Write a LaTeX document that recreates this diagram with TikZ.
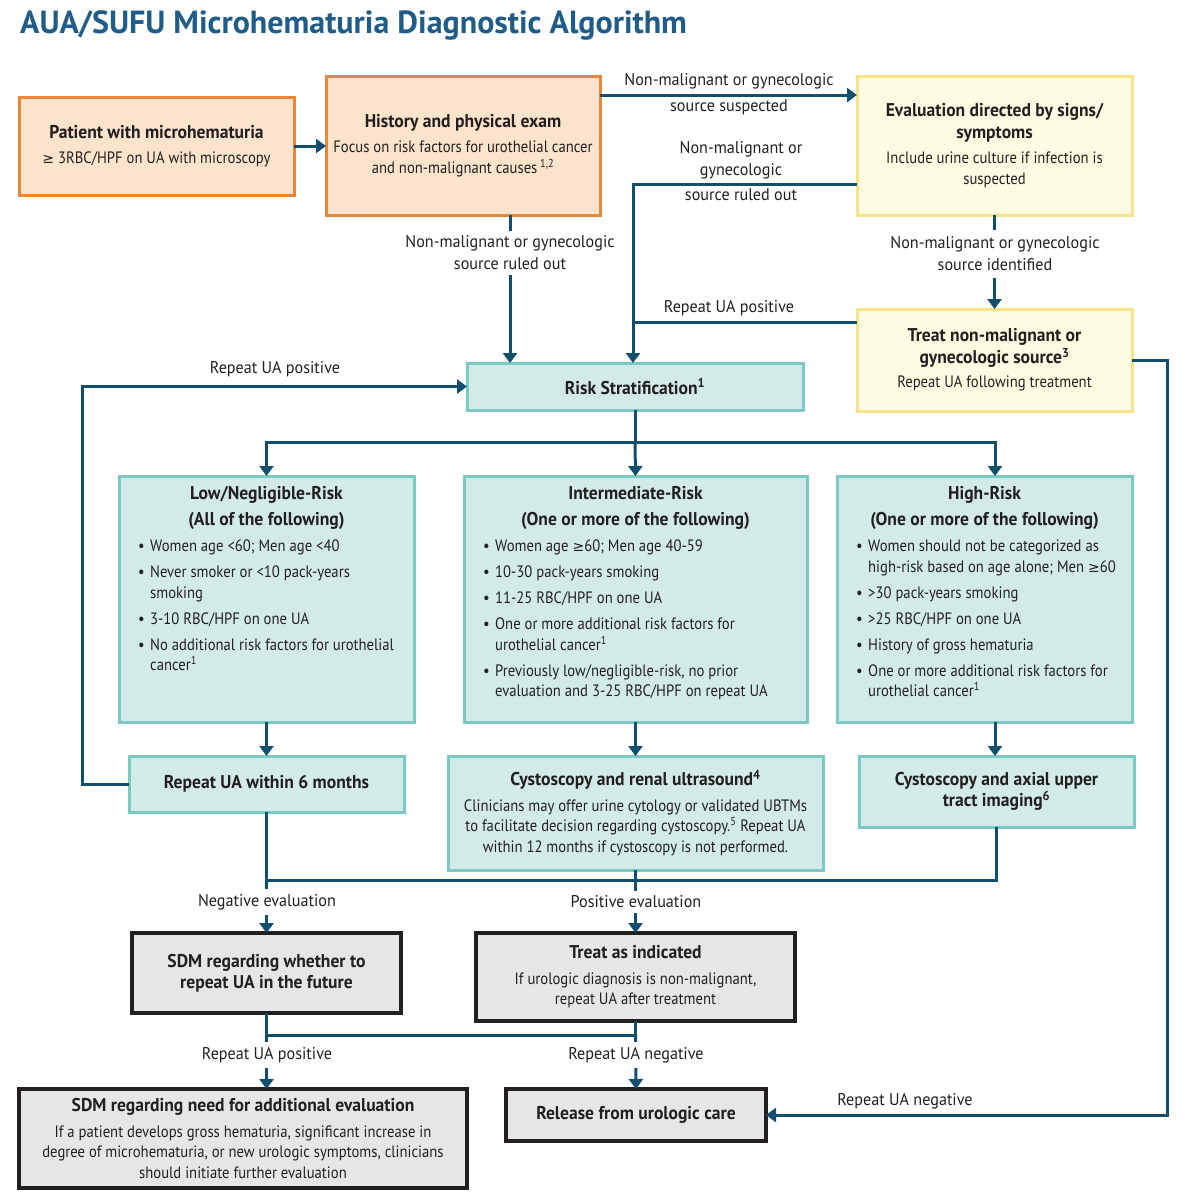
\documentclass[tikz,border=0pt]{standalone}
\usepackage{fontspec}
\setmainfont[FakeStretch=0.95]{PT Sans}
\newfontfamily\bodyfam[FakeStretch=0.89]{PT Sans}
\newfontfamily\titlefont{PT Sans}
\newfontfamily\symfam[Scale=0.85]{DejaVu Sans}
\newcommand{\gte}{{\symfam ≥}}
\usetikzlibrary{arrows.meta,calc}
\definecolor{titleblue}{HTML}{1F5C87}
\definecolor{linecol}{HTML}{124E6D}
\definecolor{orb}{HTML}{E8873A}
\definecolor{orf}{HTML}{FBE3CC}
\definecolor{yeb}{HTML}{F7E48A}
\definecolor{yef}{HTML}{FEFBE3}
\definecolor{teb}{HTML}{7CC9C3}
\definecolor{tef}{HTML}{D3EBE8}
\definecolor{grf}{HTML}{E6E6E8}
\definecolor{txt}{HTML}{231F20}
\newcommand{\bodyfont}{\bodyfam\fontsize{16.5}{20.5}\selectfont}
\newcommand{\headfont}{\normalfont\fontsize{18.5}{21}\selectfont\bfseries}
\newcommand{\lblfont}{\fontsize{17}{22}\selectfont}
\newcommand{\bul}{\makebox[12pt][l]{\textbullet}}
\newcommand{\cont}{\hspace*{12pt}}
\begin{document}
\begin{tikzpicture}[x=1pt,y=-1pt,
  box/.style={draw, line width=3pt, anchor=north west, inner sep=0pt, outer sep=0pt, align=center, text=txt, font=\bodyfont},
  orangebox/.style={box, draw=orb, fill=orf},
  yellowbox/.style={box, draw=yeb, fill=yef},
  tealbox/.style={box, draw=teb, fill=tef},
  graybox/.style={box, draw=txt, fill=grf, line width=3.5pt},
  link/.style={draw=linecol, line width=3pt},
  arrowlink/.style={link, -{Triangle[width=14pt,length=10pt]}},
  lbl/.style={font=\lblfont, text=txt, align=center, inner sep=0pt},
  lblw/.style={lbl, fill=white, inner ysep=5pt, inner xsep=3pt},
  headtext/.style={font=\headfont, text=txt, align=center, inner sep=0pt},
  listtext/.style={font=\bodyfont, text=txt, align=left, inner sep=0pt, anchor=north west}
]
\useasboundingbox (0,0) rectangle (1195,1200);

\node[anchor=base west, inner sep=0pt, font=\titlefont\fontsize{32}{36}\selectfont\bfseries, text=titleblue] (title) at (20,33) {AUA/SUFU Microhematuria Diagnostic Algorithm};

% boxes
\node[orangebox, minimum width=275pt, minimum height=98pt] (patient) at (19,97)
  {{\headfont Patient with microhematuria}\\[4pt] \gte{} 3RBC/HPF on UA with microscopy};
\node[orangebox, minimum width=274pt, minimum height=139pt] (history) at (326,76)
  {{\headfont History and physical exam}\\[5pt] Focus on risk factors for urothelial cancer\\ and non-malignant causes\,\textsuperscript{1,2}};
\node[yellowbox, minimum width=275pt, minimum height=139pt] (eval) at (857,76)
  {{\headfont Evaluation directed by signs/}\\[1pt]{\headfont symptoms}\\[5pt] Include urine culture if infection is\\ suspected};
\node[yellowbox, minimum width=275pt, minimum height=102pt] (treatnm) at (857,309)
  {{\headfont Treat non-malignant or}\\[1pt]{\headfont gynecologic source\textsuperscript{3}}\\[4pt] Repeat UA following treatment};
\node[tealbox, minimum width=336pt, minimum height=47pt] (risk) at (467,363)
  {{\headfont Risk Stratification\textsuperscript{1}}};

\node[tealbox, minimum width=295pt, minimum height=246pt] (low) at (119,476) {};
\node[tealbox, minimum width=343pt, minimum height=246pt] (inter) at (464,476) {};
\node[tealbox, minimum width=295pt, minimum height=246pt] (high) at (837,476) {};

\node[headtext] (lowhead) at ([yshift=-32pt]low.north) {Low/Negligible-Risk\\[5pt](All of the following)};
\node[headtext] (interhead) at ([yshift=-32pt]inter.north) {Intermediate-Risk\\[5pt](One or more of the following)};
\node[headtext] (highhead) at ([yshift=-32pt]high.north) {High-Risk\\[5pt](One or more of the following)};

\node[listtext] (lowlist) at (138,540) {%
\bul Women age <60; Men age <40\\[5.5pt]
\bul Never smoker or <10 pack-years\\
\cont smoking\\[5.5pt]
\bul 3-10 RBC/HPF on one UA\\[5.5pt]
\bul No additional risk factors for urothelial\\
\cont cancer\textsuperscript{1}};
\node[listtext] (interlist) at (483,540) {%
\bul Women age \gte60; Men age 40-59\\[5.5pt]
\bul 10-30 pack-years smoking\\[5.5pt]
\bul 11-25 RBC/HPF on one UA\\[5.5pt]
\bul One or more additional risk factors for\\
\cont urothelial cancer\textsuperscript{1}\\[5.5pt]
\bul Previously low/negligible-risk, no prior\\
\cont evaluation and 3-25 RBC/HPF on repeat UA};
\node[listtext] (highlist) at (856,540) {%
\bul Women should not be categorized as\\
\cont high-risk based on age alone; Men \gte60\\[5.5pt]
\bul >30 pack-years smoking\\[5.5pt]
\bul >25 RBC/HPF on one UA\\[5.5pt]
\bul History of gross hematuria\\[5.5pt]
\bul One or more additional risk factors for\\
\cont urothelial cancer\textsuperscript{1}};

\node[tealbox, minimum width=275pt, minimum height=56pt] (repeat) at (129,756)
  {{\headfont Repeat UA within 6 months}};
\node[tealbox, minimum width=375pt, minimum height=114pt] (cysto) at (448,756)
  {{\headfont Cystoscopy and renal ultrasound\textsuperscript{4}}\\[5pt] Clinicians may offer urine cytology or validated UBTMs\\ to facilitate decision regarding cystoscopy.\textsuperscript{5} Repeat UA\\ within 12 months if cystoscopy is not performed.};
\node[tealbox, minimum width=275pt, minimum height=71pt] (axial) at (859,756)
  {{\headfont Cystoscopy and axial upper}\\{\headfont tract imaging\textsuperscript{6}}};

\node[graybox, minimum width=269pt, minimum height=80pt] (sdmw) at (132,933)
  {{\headfont SDM regarding whether to}\\{\headfont repeat UA in the future}};
\node[graybox, minimum width=319pt, minimum height=88pt] (treatind) at (476,933)
  {{\headfont Treat as indicated}\\[5pt] If urologic diagnosis is non-malignant,\\ repeat UA after treatment};
\node[graybox, minimum width=448pt, minimum height=99pt] (sdmneed) at (19,1089)
  {{\headfont SDM regarding need for additional evaluation}\\[5pt] If a patient develops gross hematuria, significant increase in\\ degree of microhematuria, or new urologic symptoms, clinicians\\ should initiate further evaluation};
\node[graybox, minimum width=260pt, minimum height=52pt] (release) at (506,1089)
  {{\headfont Release from urologic care}};

% helper coordinates
\coordinate (cA) at (510,0);
\coordinate (cB) at (633,0);
\coordinate (cC) at (995,0);

% connectors
\draw[arrowlink] (patient.east) -- (history.west |- patient.east);
\draw[arrowlink] ([yshift=-19pt]history.north east) -- ([yshift=-19pt]eval.north west);
\draw[arrowlink] (history.south -| cA) -- (risk.north -| cA);
\draw[arrowlink] ([yshift=-108pt]eval.north west) -| (risk.north -| cB);
\draw[link] ([yshift=-13pt]treatnm.north west) -- ([yshift=-13pt]treatnm.north west -| cB);
\draw[arrowlink] (eval.south) -- (treatnm.north);
\draw[arrowlink] ([yshift=-51pt]treatnm.north east) -- ++(35,0) |- (release.east);

\draw[link] (risk.south) -- ++(0,32) coordinate (rj);
\draw[arrowlink] (rj) -| (low.north);
\draw[arrowlink] (rj) -| (high.north -| cC);
\draw[arrowlink] (rj) -- (inter.north);

\draw[arrowlink] (low.south) -- (repeat.north);
\draw[arrowlink] (inter.south) -- (cysto.north);
\draw[arrowlink] (high.south -| cC) -- (axial.north -| cC);
\draw[arrowlink] (repeat.west) -- ++(-47,0) |- (risk.west);

\draw[link] (repeat.south) -- ++(0,68) coordinate (j1);
\draw[link] (axial.south) |- (j1);
\draw[link] (cysto.south) -- (cysto.south |- j1);
\draw[arrowlink] (j1) -- (sdmw.north);
\draw[arrowlink] (cysto.south |- j1) -- (treatind.north);

\draw[link] (sdmw.south) -- ++(0,22) coordinate (j2);
\draw[link] (treatind.south) |- (j2);
\draw[arrowlink] (j2) -- (sdmneed.north -| j2);
\draw[arrowlink] (treatind.south |- j2) -- (release.north);

% labels
\node[lbl] (l1) at (729,94) {Non-malignant or gynecologic\\[4pt]source suspected};
\node[lblw] (l2) at (510,253) {Non-malignant or gynecologic\\source ruled out};
\node[lbl] (l3) at (741,171) {Non-malignant or\\gynecologic\\[3pt]source ruled out};
\node[lblw, inner ysep=7pt] (l4) at (995,254) {Non-malignant or gynecologic\\source identified};
\node[lbl, anchor=base] (l5) at (729,312) {Repeat UA positive};
\node[lbl, anchor=base] (l6) at (275,373) {Repeat UA positive};
\node[lbl, anchor=base] (l7) at (905,1105) {Repeat UA negative};
\node[lblw] (l8) at (267,902) {Negative evaluation};
\node[lblw] (l9) at (636,902) {Positive evaluation};
\node[lblw] (l10) at (267,1055) {Repeat UA positive};
\node[lblw] (l11) at (636,1055) {Repeat UA negative};
\end{tikzpicture}
\end{document}
